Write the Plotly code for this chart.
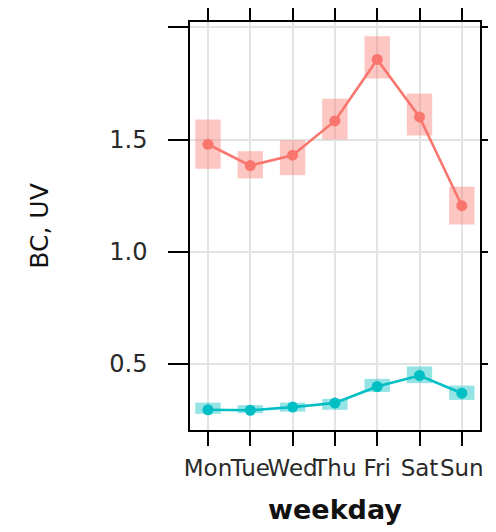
import plotly.graph_objects as go

days = ["Mon", "Tue", "Wed", "Thu", "Fri", "Sat", "Sun"]

bc_mean = [1.479, 1.384, 1.430, 1.583, 1.857, 1.601, 1.205]
bc_lower = [1.370, 1.327, 1.341, 1.500, 1.772, 1.518, 1.121]
bc_upper = [1.589, 1.448, 1.497, 1.682, 1.961, 1.705, 1.289]

uv_mean = [0.295, 0.293, 0.307, 0.325, 0.399, 0.448, 0.369]
uv_lower = [0.277, 0.280, 0.287, 0.295, 0.374, 0.414, 0.339]
uv_upper = [0.327, 0.316, 0.327, 0.344, 0.433, 0.488, 0.403]

y_ticks = [0.5, 1.0, 1.5, 2.0]
y_ticktext = ["0.5", "1.0", "1.5", ""]

xpos = list(range(1, len(days) + 1))

RED = "#F8766D"
CYAN = "#00BFC4"

fig = go.Figure()

for lo, hi, col in [(bc_lower, bc_upper, "rgba(248,118,109,0.42)"),
                    (uv_lower, uv_upper, "rgba(0,191,196,0.42)")]:
    fig.add_trace(go.Bar(
        x=xpos, base=lo, y=[h - l for h, l in zip(hi, lo)],
        width=0.6, marker=dict(color=col, line=dict(width=0)),
        showlegend=False, hoverinfo="skip"))

for vals, col in [(bc_mean, RED), (uv_mean, CYAN)]:
    fig.add_trace(go.Scatter(
        x=xpos, y=vals, mode="lines+markers",
        line=dict(color=col, width=2.6),
        marker=dict(color=col, size=11),
        showlegend=False))

fig.update_layout(
    width=496, height=532,
    margin=dict(l=182, r=24, t=14, b=110),
    paper_bgcolor="white", plot_bgcolor="white",
    barmode="overlay",
    font=dict(family="DejaVu Sans", color="#222222", size=24),
)

fig.update_xaxes(
    range=[0.575, 7.43],
    tickvals=xpos, ticktext=days, tickangle=0,
    ticks="outside", ticklen=14, tickwidth=1.5, tickcolor="black",
    showline=True, linecolor="black", linewidth=1.5, mirror="ticks",
    showgrid=True, gridcolor="#e3e3e3", gridwidth=1.5,
    zeroline=False, automargin=False,
    tickfont=dict(size=23, color="#2a2a2a"),
    ticklabelstandoff=3,
    title=dict(text="<b>weekday</b>", font=dict(size=27, color="#111111"), standoff=20),
)

fig.update_yaxes(
    range=[0.205, 2.024],
    tickvals=y_ticks, ticktext=y_ticktext,
    ticks="outside", ticklen=20, tickwidth=1.5, tickcolor="black",
    showline=True, linecolor="black", linewidth=1.5, mirror="ticks",
    showgrid=True, gridcolor="#e3e3e3", gridwidth=1.5,
    zeroline=False, automargin=False,
    tickfont=dict(size=24, color="#2a2a2a"),
    ticklabelstandoff=16,
    title=dict(text="BC, UV", font=dict(size=25, color="#111111"), standoff=54),
)

fig.write_html("out.html")
